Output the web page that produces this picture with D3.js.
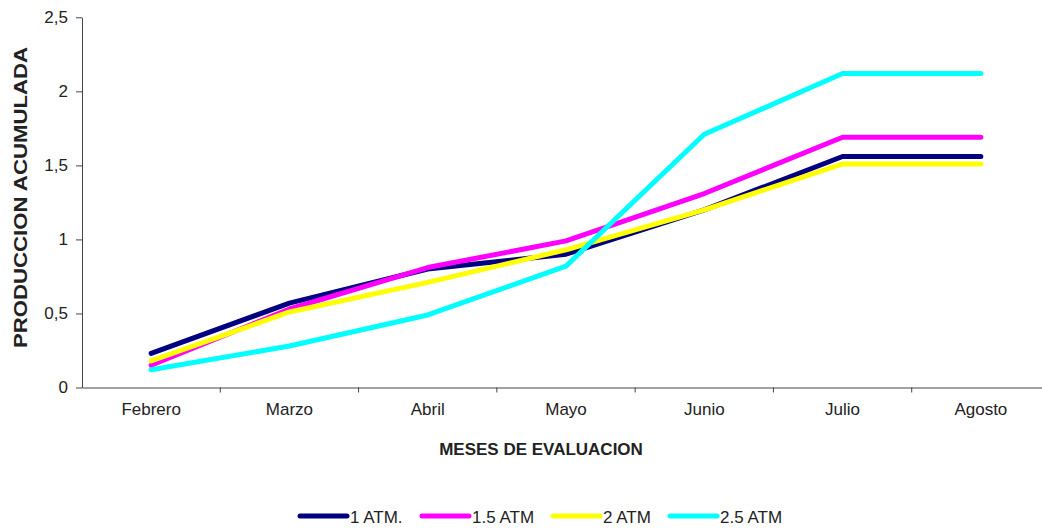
<!DOCTYPE html>
<html>
<head>
<meta charset="utf-8">
<script src="https://cdn.jsdelivr.net/npm/d3@7"></script>
<style>
  html, body { margin: 0; padding: 0; background: #fff; }
  svg { display: block; font-family: "Liberation Sans", Arial, sans-serif; }
</style>
</head>
<body>
<svg id="chart" width="1042" height="529"></svg>
<script>
// Months evaluated
const months = ["Febrero", "Marzo", "Abril", "Mayo", "Junio", "Julio", "Agosto"];

// Cumulative production per pressure level
const atm1  = [0.23, 0.57, 0.80, 0.90, 1.20, 1.56, 1.56];
const atm15 = [0.15, 0.53, 0.81, 0.99, 1.31, 1.69, 1.69];
const atm2  = [0.18, 0.51, 0.71, 0.93, 1.20, 1.51, 1.51];
const atm25 = [0.12, 0.28, 0.49, 0.82, 1.71, 2.12, 2.12];

const seriesNames = ["1 ATM.", "1.5 ATM", "2 ATM", "2.5 ATM"];
const seriesColors = ["#000080", "#ff00ff", "#ffff00", "#00ffff"];
const yTicks = [0, 0.5, 1, 1.5, 2, 2.5];

const series = [atm1, atm15, atm2, atm25].map((values, i) => ({
  name: seriesNames[i], color: seriesColors[i], values
}));

const svg = d3.select("#chart");
const plotLeft = 82, plotRight = 1050, plotTop = 17.3, plotBottom = 387.5;
const axisColor = "#444", textColor = "#222";

const x = d3.scaleBand().domain(months).range([plotLeft, plotRight]).padding(0);
const y = d3.scaleLinear().domain([0, 2.5]).range([plotBottom, plotTop]);
const cx = m => x(m) + x.bandwidth() / 2;

// Y axis
const yAxis = svg.append("g")
  .attr("transform", `translate(${plotLeft},0)`)
  .call(d3.axisLeft(y).tickValues(yTicks).tickSize(6).tickSizeOuter(0).tickPadding(8)
    .tickFormat(d => String(d).replace(".", ",")));
yAxis.select(".domain").attr("stroke", axisColor);
yAxis.selectAll(".tick line").attr("stroke", axisColor);
yAxis.selectAll(".tick text").attr("font-size", 17).attr("fill", textColor)
  .attr("font-family", "'Liberation Sans', Arial, sans-serif");

// X axis (labels centred in bands, ticks on band boundaries)
const xAxis = svg.append("g")
  .attr("transform", `translate(0,${plotBottom})`)
  .call(d3.axisBottom(x).tickSize(0).tickSizeOuter(0).tickPadding(15));
xAxis.select(".domain").attr("stroke", axisColor);
xAxis.selectAll(".tick text").attr("font-size", 17).attr("fill", textColor)
  .attr("font-family", "'Liberation Sans', Arial, sans-serif");
xAxis.selectAll("line.boundary")
  .data(months.slice(1))
  .join("line")
  .attr("class", "boundary")
  .attr("x1", d => x(d)).attr("x2", d => x(d))
  .attr("y1", 0).attr("y2", 5)
  .attr("stroke", axisColor);

// Axis titles
svg.append("text")
  .attr("x", 541).attr("y", 455)
  .attr("text-anchor", "middle")
  .attr("font-size", 17).attr("font-weight", "bold").attr("fill", textColor)
  .text("MESES DE EVALUACION");

svg.append("text")
  .attr("transform", "translate(26.5,197.5) rotate(-90)")
  .attr("text-anchor", "middle")
  .attr("font-size", 18).attr("font-weight", "bold").attr("fill", textColor)
  .attr("textLength", 301).attr("lengthAdjust", "spacingAndGlyphs")
  .text("PRODUCCION ACUMULADA");

// Lines
const line = d3.line().x((d, i) => cx(months[i])).y(d => y(d));
svg.append("g").selectAll("path")
  .data(series)
  .join("path")
  .attr("d", s => line(s.values))
  .attr("fill", "none")
  .attr("stroke", s => s.color)
  .attr("stroke-width", 5)
  .attr("stroke-linecap", "round")
  .attr("stroke-linejoin", "round");

// Legend
const legendX = [300, 422, 553, 670];
const legend = svg.append("g").selectAll("g")
  .data(series)
  .join("g")
  .attr("transform", (d, i) => `translate(${legendX[i]},516)`);
legend.append("line")
  .attr("x1", 0).attr("x2", 47).attr("y1", 0).attr("y2", 0)
  .attr("stroke", d => d.color).attr("stroke-width", 5).attr("stroke-linecap", "round");
legend.append("text")
  .attr("x", 50).attr("y", 7)
  .attr("font-size", 17).attr("fill", textColor)
  .text(d => d.name);
</script>
</body>
</html>
